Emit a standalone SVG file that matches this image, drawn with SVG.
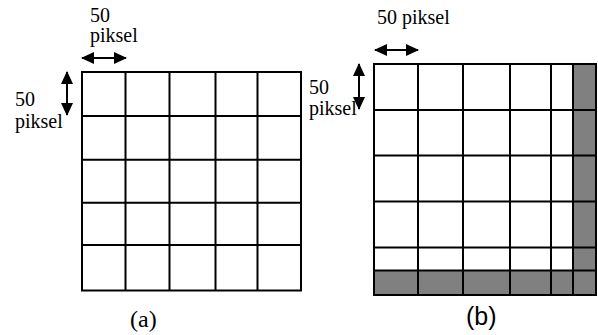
<svg xmlns="http://www.w3.org/2000/svg" width="598" height="335" viewBox="0 0 598 335">
  <defs>
    <marker id="head" markerUnits="userSpaceOnUse" markerWidth="13" markerHeight="12" viewBox="0 0 13 12" refX="12" refY="6" orient="auto-start-reverse">
      <path d="M0,0 L13,6 L0,12 Z" fill="#000"/>
    </marker>
    <style>
      .grid { stroke: #000; stroke-width: 2; fill: none; }
      .shade { fill: #808080; stroke: none; }
      .dim { stroke: #000; stroke-width: 2; marker-start: url(#head); marker-end: url(#head); }
      .lbl { font-family: "Liberation Serif", "Times New Roman", serif; font-size: 20px; fill: #000; }
    </style>
  </defs>
  <rect width="598" height="335" fill="#fff"/>

  <!-- (a): regular 5x5 grid of 50-pixel blocks -->
  <g id="grid-a">
    <rect class="grid" x="82" y="72" width="219" height="218.5"/>
    <path class="grid" d="M125.5,72V290.5 M169.5,72V290.5 M215.5,72V290.5 M257.5,72V290.5
                          M82,116H301 M82,159.7H301 M82,202.7H301 M82,245H301"/>
  </g>

  <!-- (b): grid with partial edge blocks shaded -->
  <g id="grid-b">
    <rect class="shade" x="573" y="64" width="23" height="231"/>
    <rect class="shade" x="374" y="270.5" width="222" height="24.5"/>
    <rect class="grid" x="374" y="64" width="222" height="231"/>
    <path class="grid" d="M418,64V295 M463,64V295 M510,64V295 M551,64V295 M573,64V295
                          M374,110H596 M374,155.5H596 M374,201.5H596 M374,247.5H596 M374,270.5H596"/>
  </g>

  <!-- block-size dimension arrows -->
  <g id="connectors">
    <line class="dim" x1="82" y1="58" x2="126" y2="58"/>
    <line class="dim" x1="67" y1="72" x2="67" y2="115"/>
    <line class="dim" x1="375" y1="50" x2="418" y2="50"/>
    <line class="dim" x1="359" y1="64" x2="359" y2="109"/>
  </g>

  <g id="labels-a">
    <text class="lbl" x="90" y="22">50</text>
    <text class="lbl" x="90" y="42">piksel</text>
    <text class="lbl" x="15" y="106">50</text>
    <text class="lbl" x="15" y="128">piksel</text>
    <text class="lbl" x="130" y="327" style="font-size:24px">(a)</text>
  </g>
  <g id="labels-b">
    <text class="lbl" x="377" y="24">50 piksel</text>
    <text class="lbl" x="309" y="94">50</text>
    <text class="lbl" x="309" y="115">piksel</text>
    <text x="466" y="325" style="font-family:'Liberation Sans',Arial,sans-serif;font-size:25px">(b)</text>
  </g>
</svg>
